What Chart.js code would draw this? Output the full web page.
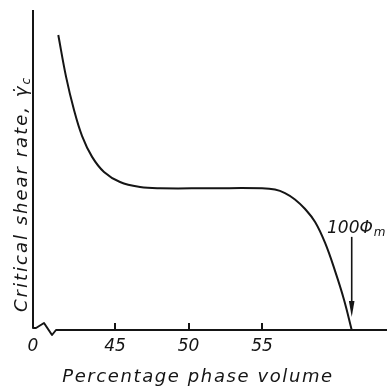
<!DOCTYPE html>
<html>
<head>
<meta charset="utf-8">
<script src="https://cdn.jsdelivr.net/npm/chart.js@4/dist/chart.umd.min.js"></script>
<style>
html,body{margin:0;padding:0;background:#fff;}
#wrap{width:389px;height:388px;position:relative;}
</style>
</head>
<body>
<div id="wrap"><canvas id="c" width="389" height="388"></canvas></div>
<script>
// Percentage phase volume (x) and critical shear rate (y, arbitrary units 0-100)
const phaseVolume = [41.14, 41.67, 42.21, 42.76, 43.44, 44.25, 45.34, 46.70, 48.06, 51.50, 55.00, 55.88, 56.56, 57.24, 57.93, 58.61, 59.29, 59.97, 60.58, 61.10];
const shearRate   = [92.2, 79.1, 68.75, 60.6, 54.1, 49.4, 46.25, 44.7, 44.3, 44.3, 44.28, 43.9, 42.8, 40.8, 37.8, 33.75, 27.2, 18.4, 9.4, 0];
const xTickValues = [39.42, 45, 50, 55];
const xTickLabels = ['0', '45', '50', '55'];
const xRange = [39.42, 63.5];
const yRange = [0, 100];
const phiM = 61.10;
const arrowFromTo = [29.1, 4.1];
const markLabel = '100Φ';
const markSub = 'm';
const yTitle = 'Critical shear rate, γ̇';
const yTitleSub = 'c';
const xTitle = 'Percentage phase volume';

const FONT = '"DejaVu Sans", sans-serif';
const INK = '#151515';

const decor = {
  id: 'decor',
  afterDraw(chart) {
    const ctx = chart.ctx;
    const a = chart.chartArea;
    const xs = chart.scales.x, ys = chart.scales.y;
    ctx.save();
    ctx.strokeStyle = INK;
    ctx.fillStyle = INK;
    ctx.lineWidth = 2;
    ctx.lineJoin = 'round';
    // axes with break
    const yb = a.bottom;
    ctx.beginPath();
    ctx.moveTo(a.left, a.top);
    ctx.lineTo(a.left, yb - 2);
    ctx.lineTo(a.left + 3, yb - 2);
    ctx.lineTo(a.left + 11, yb - 7);
    ctx.lineTo(a.left + 19, yb + 5);
    ctx.lineTo(a.left + 23, yb);
    ctx.lineTo(a.right, yb);
    ctx.stroke();
    // tick marks (inward)
    for (let i = 1; i < xTickValues.length; i++) {
      const px = Math.round(xs.getPixelForValue(xTickValues[i]));
      ctx.beginPath();
      ctx.moveTo(px, yb);
      ctx.lineTo(px, yb - 7);
      ctx.stroke();
    }
    // arrow
    const ax = xs.getPixelForValue(phiM);
    const ay1 = ys.getPixelForValue(arrowFromTo[0]);
    const ay2 = ys.getPixelForValue(arrowFromTo[1]);
    ctx.lineWidth = 1.6;
    ctx.beginPath();
    ctx.moveTo(ax, ay1);
    ctx.lineTo(ax, ay2 - 12);
    ctx.stroke();
    ctx.beginPath();
    ctx.moveTo(ax - 2.8, ay2 - 16);
    ctx.lineTo(ax + 2.8, ay2 - 16);
    ctx.lineTo(ax, ay2);
    ctx.closePath();
    ctx.fill();
    // 100Φm label
    ctx.font = 'italic 17px ' + FONT;
    ctx.textBaseline = 'alphabetic';
    ctx.textAlign = 'left';
    const lw = ctx.measureText(markLabel).width;
    const lx = 327, ly = 233;
    ctx.fillText(markLabel, lx, ly);
    ctx.font = 'italic 12px ' + FONT;
    ctx.fillText(markSub, lx + lw + 1, ly + 3);
    // y title (rotated)
    ctx.save();
    ctx.translate(27, 194);
    ctx.rotate(-Math.PI / 2);
    ctx.letterSpacing = '2px';
    ctx.font = 'italic 18px ' + FONT;
    const tw = ctx.measureText(yTitle).width;
    ctx.font = 'italic 12px ' + FONT;
    const sw = ctx.measureText(yTitleSub).width;
    const total = tw + sw;
    ctx.font = 'italic 18px ' + FONT;
    ctx.textAlign = 'left';
    ctx.fillText(yTitle, -total / 2, 0);
    ctx.font = 'italic 12px ' + FONT;
    ctx.fillText(yTitleSub, -total / 2 + tw, 3);
    ctx.restore();
    // x title
    ctx.letterSpacing = '1.6px';
    ctx.font = 'italic 18px ' + FONT;
    ctx.textAlign = 'center';
    ctx.textBaseline = 'middle';
    ctx.fillText(xTitle, 198, 377);
    ctx.restore();
  }
};

new Chart(document.getElementById('c'), {
  type: 'line',
  data: {
    datasets: [{
      data: phaseVolume.map((v, i) => ({ x: v, y: shearRate[i] })),
      borderColor: INK,
      borderWidth: 2,
      pointRadius: 0,
      fill: false,
      tension: 0.4
    }]
  },
  options: {
    responsive: false,
    animation: false,
    layout: { padding: { left: 33, right: 2, top: 10, bottom: 0 } },
    plugins: { legend: { display: false }, tooltip: { enabled: false } },
    scales: {
      x: {
        type: 'linear',
        min: xRange[0], max: xRange[1],
        grid: { display: false, drawTicks: false },
        border: { display: false },
        afterBuildTicks: (s) => { s.ticks = xTickValues.map(v => ({ value: v })); },
        afterFit: (s) => { s.height = 58; },
        ticks: {
          autoSkip: false,
          maxRotation: 0,
          padding: 6,
          color: INK,
          font: { family: FONT, size: 17, style: 'italic' },
          callback: (v) => { const i = xTickValues.indexOf(v); return i >= 0 ? xTickLabels[i] : ''; }
        }
      },
      y: {
        display: false,
        min: yRange[0], max: yRange[1]
      }
    }
  },
  plugins: [decor]
});
</script>
</body>
</html>
